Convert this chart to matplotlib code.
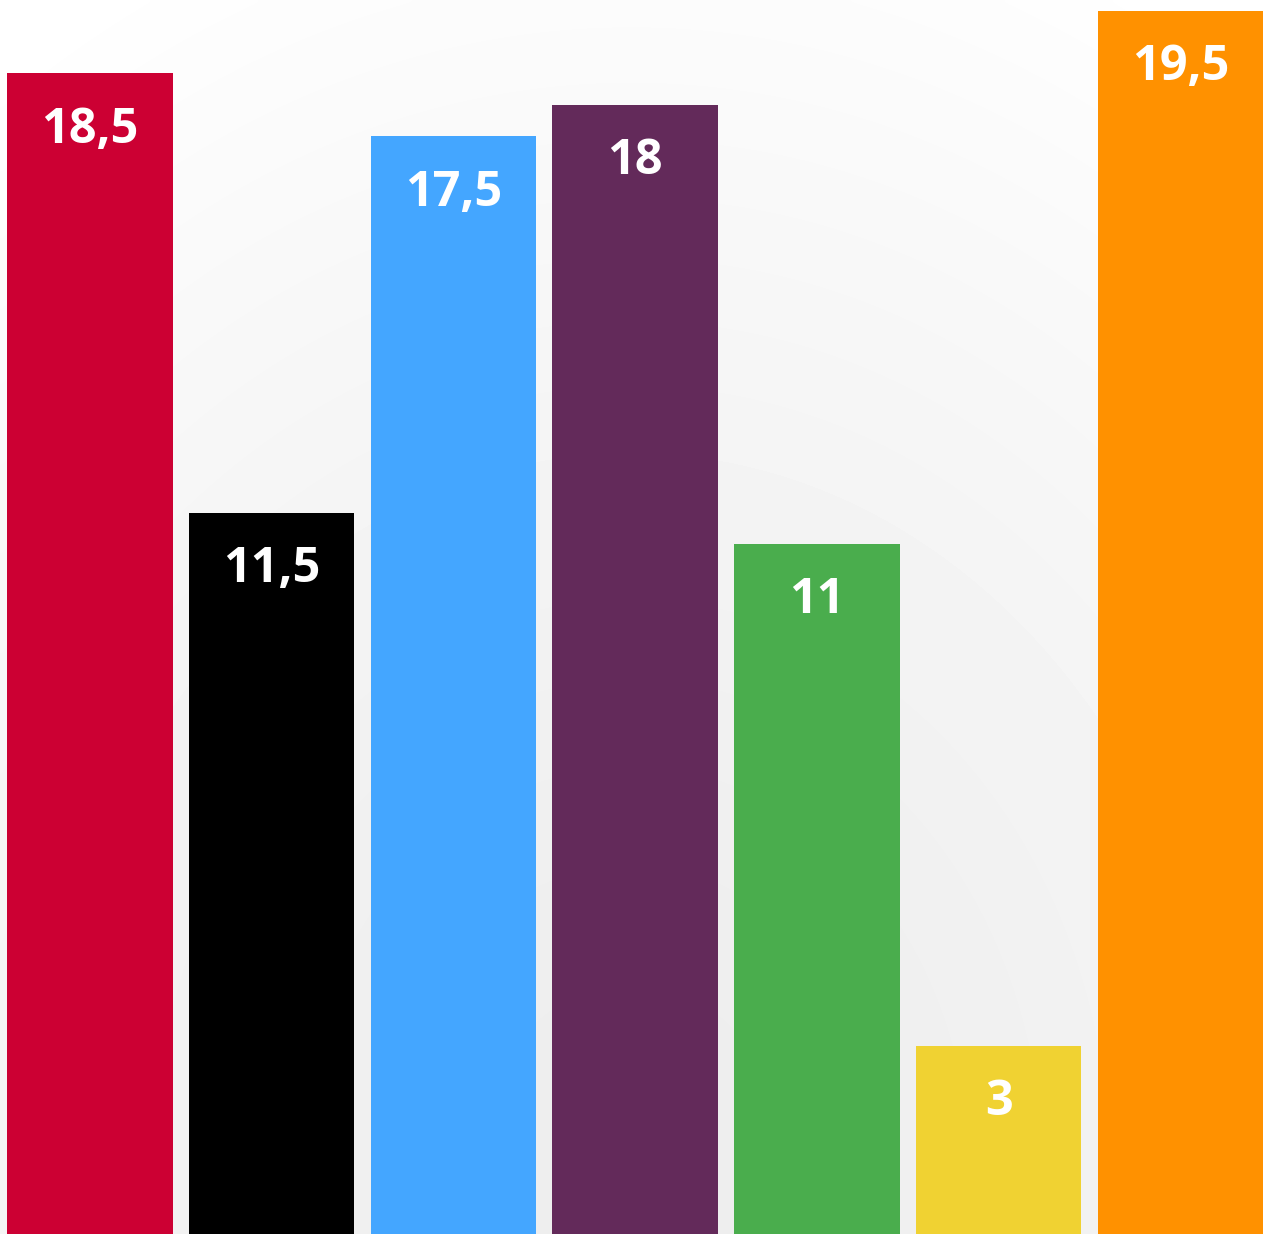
import numpy as np
import matplotlib.pyplot as plt

values = [18.5, 11.5, 17.5, 18, 11, 3, 19.5]
labels = ['18,5', '11,5', '17,5', '18', '11', '3', '19,5']
colors = ['#CC0033', '#000000', '#44A6FF', '#632A5A', '#4AAD4D', '#F0D232', '#FF9100']

fig = plt.figure(figsize=(12.63, 12.34), dpi=100)

# soft radial background, white at top, light grey lower middle
bg = fig.add_axes([0, 0, 1, 1])
yy, xx = np.mgrid[0:1:300j, 0:1:300j]
r = np.sqrt(((xx - 0.5) / 0.9) ** 2 + ((yy - 0.05) / 1.1) ** 2)
shade = 0.93 + 0.07 * np.clip(r, 0, 1) ** 1.5
bg.imshow(shade, cmap='gray', vmin=0, vmax=1, origin='lower',
          extent=[0, 1, 0, 1], aspect='auto', interpolation='bicubic')
bg.axis('off')

ax = fig.add_axes([0, 0, 1, 1])
ax.patch.set_visible(False)
x = np.arange(len(values))
ax.bar(x, values, width=0.91, color=colors)
for xi, v, lab in zip(x, values, labels):
    ax.annotate(lab, (xi, v), xytext=(0, -41), textcoords='offset points',
                ha='center', va='center', color='white', fontsize=35,
                fontweight='bold', family='Open Sans')
ax.set_xlim(-0.495, 6.455)
ax.set_ylim(0, 19.67)
ax.axis('off')

fig.savefig('out.png', dpi=100)
